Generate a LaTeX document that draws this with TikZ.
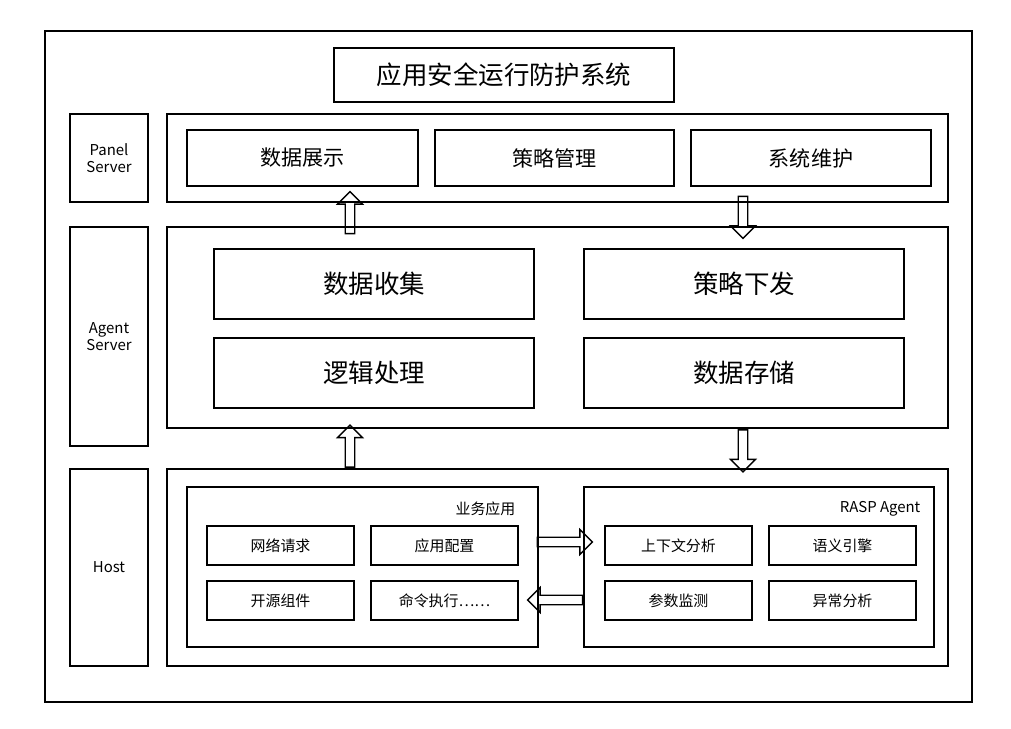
\documentclass[tikz,border=0pt]{standalone}
\usepackage{fontspec}
\setmainfont{Noto Sans CJK SC}
\usetikzlibrary{shapes.arrows}

\begin{document}
\begin{tikzpicture}[x=0.02cm, y=-0.02cm,
        box/.style={draw, line width=0.8pt, inner sep=0pt},
        side/.style={box, minimum width=1.56cm, font=\fontsize{8.5}{10}\selectfont, align=center},
        layer/.style={box, minimum width=15.62cm},
        panel item/.style={box, minimum height=1.12cm, font=\fontsize{12}{14}\selectfont},
        agent item/.style={box, minimum width=6.4cm, minimum height=1.4cm, font=\fontsize{14.5}{16}\selectfont},
        host item/.style={box, minimum width=2.94cm, minimum height=0.78cm, font=\fontsize{8.5}{10}\selectfont},
        group/.style={box, minimum height=3.2cm},
        group label/.style={font=\fontsize{8.5}{10}\selectfont, anchor=north east, inner sep=0pt},
        flow/.style={draw, line width=0.8pt, single arrow, single arrow head extend=0.12cm,
            minimum width=0.5cm, inner sep=0.06cm}
    ]
    \useasboundingbox (0,0) rectangle (1011,729);

    \node[box, minimum width=18.54cm, minimum height=13.42cm] (frame) at (508.5,366.5) {};
    \node[box, minimum width=6.8cm, minimum height=1.08cm, font=\fontsize{14.5}{16}\selectfont] (title) at (504,75) {应用安全运行防护系统};

    \node[side, minimum height=1.76cm] (panel label) at (109,158) {Panel\\Server};
    \node[side, minimum height=4.38cm] (agent label) at (109,336.5) {Agent\\Server};
    \node[side, minimum height=3.94cm] (host label) at (109,567.5) {Host};

    \node[layer, minimum height=1.76cm] (panel) at (557.5,158) {};
    \node[layer, minimum height=4.02cm] (agent) at (557.5,327.5) {};
    \node[layer, minimum height=3.94cm] (host) at (557.5,567.5) {};

    \node[panel item, minimum width=4.62cm] (show) at (302.5,158) {数据展示};
    \node[panel item, minimum width=4.78cm] (policy) at (554.5,158) {策略管理};
    \node[panel item, minimum width=4.8cm] (maint) at (811,158) {系统维护};

    \node[agent item] (collect) at (374,284) {数据收集};
    \node[agent item] (dispatch) at (744,284) {策略下发};
    \node[agent item] (logic) at (374,373) {逻辑处理};
    \node[agent item] (store) at (744,373) {数据存储};

    \node[group, minimum width=7.02cm] (biz) at (362.5,567) {};
    \node[group, minimum width=7.0cm] (rasp) at (759,567) {};
    \node[group label] at ([xshift=-0.46cm, yshift=-0.3cm]biz.north east) {业务应用};
    \node[group label] at ([xshift=-0.28cm, yshift=-0.3cm]rasp.north east) {RASP Agent};

    \node[host item] (request) at (280.5,545.5) {网络请求};
    \node[host item] (config) at (444.5,545.5) {应用配置};
    \node[host item] (component) at (280.5,600.5) {开源组件};
    \node[host item] (command) at (444.5,600.5) {命令执行……};
    \node[host item] (context) at (678.5,545.5) {上下文分析};
    \node[host item] (engine) at (842.5,545.5) {语义引擎};
    \node[host item] (monitor) at (678.5,600.5) {参数监测};
    \node[host item] (anomaly) at (842.5,600.5) {异常分析};

    \node[flow, minimum height=0.84cm, rotate=90] (up top) at (350,215) {};
    \node[flow, minimum height=0.84cm, rotate=-90] (down top) at (743,215) {};
    \node[flow, minimum height=0.84cm, rotate=90] (up low) at (350,448.5) {};
    \node[flow, minimum height=0.84cm, rotate=-90] (down low) at (743,448.5) {};
    \node[flow, minimum height=1.1cm] (to rasp) at (562.5,542) {};
    \node[flow, minimum height=1.1cm, rotate=180] (to biz) at (557.5,600) {};

\end{tikzpicture}
\end{document}
